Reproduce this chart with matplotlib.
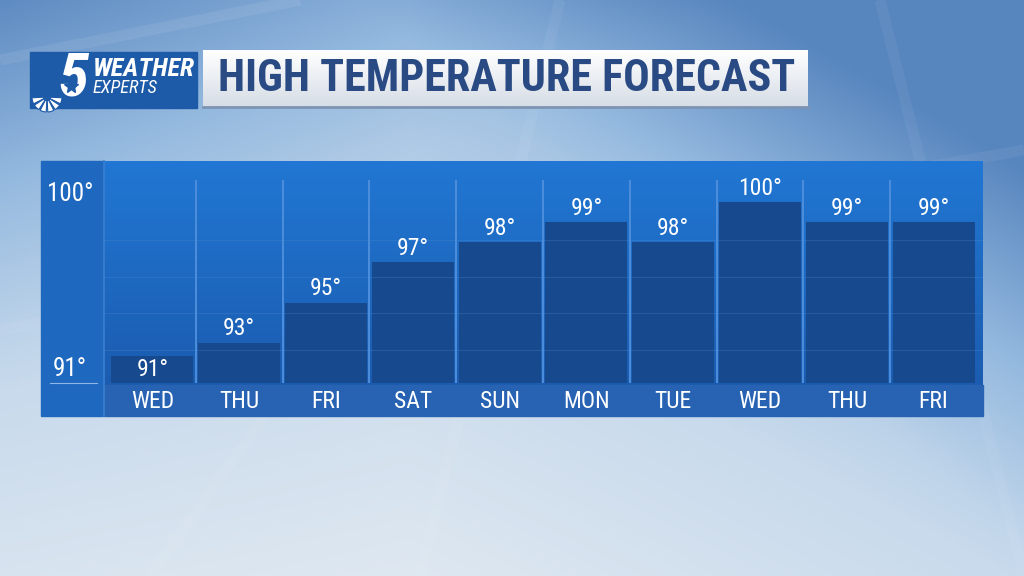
import numpy as np
import matplotlib
matplotlib.use("Agg")
import matplotlib.pyplot as plt
from matplotlib import font_manager as fm
from matplotlib.patches import Rectangle, Wedge
from matplotlib.colors import LinearSegmentedColormap

# forecast data
days = ['WED', 'THU', 'FRI', 'SAT', 'SUN', 'MON', 'TUE', 'WED', 'THU', 'FRI']
highs = [91, 93, 95, 97, 98, 99, 98, 100, 99, 99]
axis_labels = [100, 91]

# pick a narrow font if one is installed
installed = {f.name for f in fm.fontManager.ttflist}
narrow = 'DejaVu Sans'
for name in ['Roboto Condensed', 'Barlow Semi Condensed', 'Barlow Condensed', 'PT Sans Narrow',
             'Archivo Narrow', 'Liberation Sans Narrow', 'Open Sans Condensed', 'Encode Sans Condensed',
             'Oswald']:
    if name in installed:
        narrow = name
        break
FONT = [narrow, 'DejaVu Sans']
W, H = 1024, 576

fig = plt.figure(figsize=(W / 100, H / 100), dpi=100)
renderer = fig.canvas.get_renderer()


def fit(t, width_px):
    # shrink / grow a text so it spans the given width in pixels
    w = t.get_window_extent(renderer).width
    t.set_fontsize(t.get_fontsize() * width_px / w)


# background layer in pixel coordinates
bg = fig.add_axes([0, 0, 1, 1])
bg.set_xlim(0, W)
bg.set_ylim(H, 0)
bg.axis('off')

yy, xx = np.mgrid[0:1:200j, 0:1:360j]
sky = LinearSegmentedColormap.from_list('sky', ['#5785be', '#94b9df', '#c8daec', '#dfe8f1'])
shade = 0.55 * yy + 0.25 * (1 - np.abs(xx - 0.4) * 1.6) + 0.15 * (1 - xx) * yy
shade = shade - 0.15 * np.clip(1 - (xx * 1.4 + yy * 1.6), 0, 1)
shade = shade - 0.45 * np.clip(xx * 1.3 - 0.45 - yy * 0.9, 0, 1)
bg.imshow(shade, cmap=sky, extent=[0, W, H, 0], aspect='auto', vmin=-0.1, vmax=0.9, zorder=0)
# soft streaks
for xa, xb, ya, yb, a in [(0, 1024, 330, 150, 0.06), (420, 560, 576, 0, 0.05), (880, 1024, 0, 576, 0.05),
                          (150, 420, 576, 200, 0.05), (0, 300, 60, 0, 0.08)]:
    bg.plot([xa, xb], [ya, yb], color='white', lw=8, alpha=a, zorder=1, solid_capstyle='butt')

# logo box
bg.add_patch(Rectangle((30, 52), 167, 56, color='#1d5aa8', zorder=2))
t1 = bg.text(93, 69, 'WEATHER', color='white', fontsize=17, fontweight='bold', style='italic',
             family=FONT, va='center', ha='left', zorder=3)
t2 = bg.text(93, 88, 'EXPERTS', color='white', fontsize=14, style='italic',
             family=FONT, va='center', ha='left', zorder=3)
fit(t1, 102)
fit(t2, 65)
bg.text(73, 78, '5', color='white', fontsize=44, fontweight='bold', style='italic',
        family=FONT, va='center', ha='center', zorder=3)
bg.plot([71], [86], marker='*', color='#1d5aa8', markersize=10, zorder=4)
for k in range(6):
    ang = 15 + k * 30
    bg.add_patch(Wedge((47, 97), 15, ang - 12, ang + 12, width=12, facecolor='white',
                       edgecolor='#1d5aa8', lw=0.8, zorder=3))

# title box
title_grad = np.linspace(1, 0, 50).reshape(-1, 1)
tcm = LinearSegmentedColormap.from_list('t', ['#d6dde6', '#ffffff'])
bg.imshow(title_grad, cmap=tcm, extent=[203, 808, 107, 50], aspect='auto', zorder=2)
bg.plot([203, 808], [107, 107], color='#7d94b3', lw=2, zorder=3)
tt = bg.text(218, 79, 'HIGH TEMPERATURE FORECAST', color='#2a4a84', fontsize=33, fontweight='bold',
             family=FONT, va='center', ha='left', zorder=3)
fit(tt, 577)

# chart panel
bg.add_patch(Rectangle((41, 161), 63, 255, color='#1f68bf', zorder=2))
pcm = LinearSegmentedColormap.from_list('p', ['#1b5cb0', '#2177d3'])
bg.imshow(np.linspace(0, 1, 100).reshape(-1, 1)[::-1], cmap=pcm, extent=[104, 983, 385, 161],
          aspect='auto', zorder=2)
bg.add_patch(Rectangle((104, 385), 879, 31, color='#2762b3', zorder=2))
bg.plot([103.5, 103.5], [161, 416], color='#3a7fd0', lw=1.2, zorder=3)
bg.plot([50, 97], [383, 383], color='#8fb6e6', lw=0.8, zorder=3)

# bar chart axes
x0, x1, ytop, ybot = 104, 983, 170, 383
ax = fig.add_axes([x0 / W, 1 - ybot / H, (x1 - x0) / W, (ybot - ytop) / H])
ax.patch.set_alpha(0)
ax.set_xlim(-0.558, 9.569)
ax.set_ylim(91, 101.6)
ax.axis('off')

pos = np.arange(len(days))
vals = np.array(highs)
heights = np.maximum(vals - 91, 1.35)
ax.bar(pos, heights, bottom=91, width=0.945, color='#17498e', zorder=2)

for f in [0.155, 0.327, 0.499, 0.671]:
    ax.plot([0, 1], [f, f], transform=ax.transAxes, color='#5a8fd0', lw=0.6, alpha=0.3, zorder=3)
for i in range(len(days) - 1):
    ax.plot([i + 0.5, i + 0.5], [0, 0.95], transform=ax.get_xaxis_transform(),
            color='#4d8edc', lw=1.4, zorder=3)

for i, v in enumerate(highs):
    ax.annotate(f'{v}°', (i, v), xytext=(0, 10), textcoords='offset points',
                ha='center', va='center', color='white', fontsize=17, family=FONT, zorder=4)

for i, d in enumerate(days):
    ax.annotate(d, (i, 0), xycoords=('data', 'axes fraction'), xytext=(0, -13),
                textcoords='offset points', ha='center', va='center', color='white',
                fontsize=17, family=FONT)

# left axis labels
for v in axis_labels:
    yp = ax.transData.transform((0, v))[1]
    ypix = H - yp - (14 if v == 91 else 8)
    bg.text(70, ypix, f'{v}°', color='white', fontsize=18, family=FONT,
            ha='center', va='center', zorder=4)

fig.savefig('out.png', dpi=100)
